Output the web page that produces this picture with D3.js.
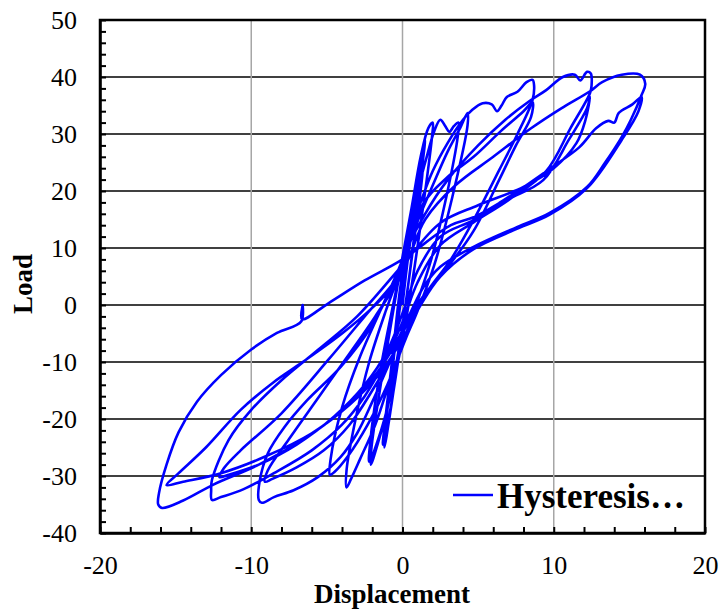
<!DOCTYPE html>
<html>
<head>
<meta charset="utf-8">
<script src="https://cdn.jsdelivr.net/npm/d3@7"></script>
<style>
  body { margin: 0; background: #fff; }
  text { font-family: "Liberation Serif", "Times New Roman", serif; fill: #000; }
</style>
</head>
<body>
<div id="chart"></div>
<script>
// tick values
var xTicks = [-20, -10, 0, 10, 20];
var yTicks = [-40, -30, -20, -10, 0, 10, 20, 30, 40, 50];
var legendLabel = "Hysteresis\u2026";

// load-displacement record, split by displacement level [disp, load]
var level1 = [
  [0,0],[0.4,9],[0.9,18],[1.3,24],[1.25,21.5],[0.8,12],[0.3,2],[-0.2,-8],[-0.7,-17],[-1.2,-25],
  [-1.15,-22],[-0.7,-12],[-0.2,-1],[0.3,9],[0.8,18],[1.35,25],[1.3,22.5],[0.8,12],[0.2,0],
  [-0.3,-10],[-0.85,-19],[-1.3,-24.5],[-1.2,-21.5],[-0.7,-10],[-0.2,2]
];
var level2 = [
  [0.3,11],[0.9,21],[1.5,29],[1.4,26.5],[0.9,15],[0.4,4],[-0.2,-7],[-0.9,-17],[-1.6,-24],[-2.1,-28],
  [-2.05,-25],[-1.5,-15],[-0.8,-4],[-0.1,7],[0.6,17],[1.2,26],[1.7,31],[2.0,32],[1.95,29.5],
  [1.4,18],[0.7,5],[0,-6],[-0.8,-16],[-1.6,-23.5],[-2.2,-27.5],[-2.15,-24.5],[-1.5,-12],[-0.7,-1]
];
var level3 = [
  [0,8],[0.7,17],[1.5,25],[2.1,30.5],[2.5,32.5],[2.8,31.5],[3.1,30.4],[3.4,31.4],[3.7,32],[3.65,29.5],
  [2.9,19],[1.9,8],[0.9,0],[0.1,-6],[-0.8,-13],[-1.8,-21],[-2.8,-27],[-3.4,-30.5],[-3.7,-32],
  [-3.7,-29],[-3.1,-20],[-2.2,-10],[-1.1,-1],[0,7],[0.9,14],[2.0,21],[3.0,27],[3.8,31],[4.3,33.7],
  [4.3,31.5],[3.3,19],[2.1,7],[1.0,-1],[0.2,-6],[-1.0,-14],[-2.3,-21],[-3.6,-26.5],[-4.5,-29.3],
  [-4.8,-29.8],[-4.75,-27],[-4.0,-18],[-2.8,-9],[-1.3,0]
];
var level4 = [
  [0,8],[1,16.5],[2,23.5],[3,28.5],[4,32.5],[4.6,34.2],[5.3,35.4],[5.9,35.2],[6.25,34.0],[6.55,35],
  [6.9,36.5],[7.6,37.4],[8.2,39.1],[8.6,39.5],[8.7,38.5],[8.6,36],[7.6,30],[6.4,23.7],[4.7,14.9],
  [3.2,8],[1.8,3],[0.8,-1],[0,-5],[-1,-11],[-2,-17],[-3,-22.5],[-4.1,-26.7],[-5.6,-30.2],
  [-7.2,-32.5],[-8.5,-33.7],[-9.3,-34.7],[-9.5,-34.2],[-9.45,-31],[-8.9,-26],[-7.8,-21.4],
  [-6.3,-16.7],[-4.1,-10.9],[-2,-3.5],[0,7.5],
  [1.4,17.9],[3,22.5],[4.7,26],[6.5,30.5],[8,34],[8.6,35.6],[8.5,33],[7.5,28],[6.4,22],[4.7,13],
  [3,6.7],[1.5,2],[0.5,-2],[-0.5,-8],[-2,-15],[-3.5,-21],[-5.2,-25.5],[-7,-28.5],[-8.6,-30.5],
  [-9.1,-31],[-8.9,-29],[-7.5,-23.5],[-5.5,-16],[-3.5,-8.5],[-1.8,-2],[0,6]
];
var level5 = [
  [0,8],[1.5,16],[3,22],[5,28],[6.8,32.5],[8.4,35.8],[9.5,37.7],[10.6,40],[11.4,40.4],[11.75,39.4],
  [12.2,40.9],[12.45,40.6],[12.5,38.5],[12.4,37.2],[11.1,31],[9.5,23.5],[7,18.4],[4.7,14.5],
  [2.5,10.5],[1,4],[0,-3],[-1.2,-10],[-2.5,-16],[-4,-21],[-6,-25.5],[-8.5,-29.5],[-10.5,-32.3],
  [-12,-33.7],[-12.6,-34.2],[-12.65,-32.5],[-12.6,-30.7],[-11.5,-23.7],[-10,-18.4],[-8,-13.2],
  [-5.6,-7.9],[-3,-2],[0,7],
  [2.5,14.4],[5,17.5],[8,20.7],[10,24],[11.5,28.4],[12.1,32.5],[12.4,36.5],[12.2,34.5],[11,29],
  [9.3,21.9],[6.9,18.4],[4.7,14.9],[2.5,12],[1,6],[0.2,0],[-1,-8],[-2.5,-14],[-4.5,-19.5],
  [-7,-24.5],[-9.5,-28],[-11.5,-29.8],[-12.1,-30.2],[-11.8,-28.6],[-10.7,-25.5],[-8,-19],
  [-4.9,-9.6],[-2.5,-2],[0,6]
];
var level6 = [
  [1.5,15],[3.5,21],[6,26],[8.5,31],[10.5,34.5],[12.4,37.5],[13.2,39.1],[14.5,40.4],[15.7,40.4],
  [16.05,38.8],[15.8,36.8],[15.1,32.5],[14.5,29.5],[13.4,25],[12.2,20.7],[9.7,16.1],[7.6,13.7],
  [4.7,10.2],[2.5,6.7],[1.4,3.2],[0.5,-1.5],[-0.5,-7],[-2,-13],[-4,-18.5],[-6.5,-23.5],[-9.5,-28],
  [-12.5,-31.5],[-14.5,-34.3],[-15.9,-35.6],[-16.15,-35],[-16.1,-33],[-15.6,-28],[-14.8,-22.3],
  [-13.6,-17],[-12,-12.3],[-10,-7.8],[-8.3,-4.9],[-6.7,-2.9],[-6.6,0],[-6.65,-2.5],[-4.9,0.3],
  [-2.5,4.3],[0,8],
  [3.2,14],[4.7,15.4],[6.4,17.9],[8.4,21.4],[9.9,24.2],[11.7,27.7],[12.8,31],[13.6,32.3],[14.0,32.0],
  [14.3,33.7],[15.2,35.2],[15.8,36.5],[15.6,34],[14.5,29],[12.2,20.5],[9.7,15.8],[7.6,13.4],
  [4.7,9.8],[2.5,5],[1.2,0],[0,-6],[-1.5,-12],[-3.5,-17.5],[-6,-22.5],[-9,-26.5],[-12,-29.5],
  [-14.5,-31],[-15.6,-31.6],[-14.8,-29.5],[-13,-25],[-10.7,-18.4],[-8.5,-13.5],[-6.7,-10.2],
  [-4,-5],[-2,-0.5],[0,5]
];

var hysteresis = [].concat(level1, level2, level3, level4, level5, level6);

//////////////////////////////////////////////////////////////////////////////

var width = 720, height = 611;
var margin = { top: 20, right: 15, bottom: 78, left: 100 };

var svg = d3.select("#chart").append("svg")
  .attr("width", width)
  .attr("height", height);

var x = d3.scaleLinear().domain([-20, 20]).range([margin.left, width - margin.right]);
var y = d3.scaleLinear().domain([-40, 50]).range([height - margin.bottom, margin.top]);

// plain hyphen for negatives, as in the original
function plain(d) { return String(d); }

// horizontal grid (dark) and vertical grid (light)
svg.append("g")
  .selectAll("line")
  .data(yTicks.slice(1, -1))
  .enter().append("line")
  .attr("x1", x(-20)).attr("x2", x(20))
  .attr("y1", function(d) { return y(d); })
  .attr("y2", function(d) { return y(d); })
  .attr("stroke", "#404040")
  .attr("stroke-width", 1.8);

svg.append("g")
  .selectAll("line")
  .data(xTicks.slice(1, -1))
  .enter().append("line")
  .attr("y1", y(-40)).attr("y2", y(50))
  .attr("x1", function(d) { return x(d); })
  .attr("x2", function(d) { return x(d); })
  .attr("stroke", "#a6a6a6")
  .attr("stroke-width", 1.5);

// the curve
var line = d3.line()
  .x(function(d) { return x(d[0]); })
  .y(function(d) { return y(d[1]); })
  .curve(d3.curveCatmullRom.alpha(0.5));

svg.append("path")
  .datum(hysteresis)
  .attr("d", line)
  .attr("fill", "none")
  .attr("stroke", "#0000ff")
  .attr("stroke-width", 2.6)
  .attr("stroke-linejoin", "round");

// frame
svg.append("rect")
  .attr("x", x(-20)).attr("y", y(50))
  .attr("width", x(20) - x(-20))
  .attr("height", y(-40) - y(50))
  .attr("fill", "none")
  .attr("stroke", "#000")
  .attr("stroke-width", 2.5);

// minor + major ticks pointing inward
svg.append("g")
  .attr("transform", "translate(" + x(-20) + ",0)")
  .call(d3.axisLeft(y).tickValues(d3.range(-40, 51, 2)).tickSize(-6).tickSizeOuter(0).tickFormat(""))
  .call(function(g) {
    g.select(".domain").attr("stroke-width", 2.5);
    g.selectAll(".tick line").attr("stroke-width", 2);
  });

svg.append("g")
  .attr("transform", "translate(0," + y(-40) + ")")
  .call(d3.axisBottom(x).tickValues(d3.range(-20, 21, 2)).tickSize(-6).tickSizeOuter(0).tickFormat(""))
  .call(function(g) {
    g.select(".domain").attr("stroke-width", 2.5);
    g.selectAll(".tick line").attr("stroke-width", 2);
  });

// tick labels
svg.append("g")
  .attr("transform", "translate(" + x(-20) + ",0)")
  .call(d3.axisLeft(y).tickValues(yTicks).tickSize(0).tickPadding(23).tickFormat(plain))
  .call(function(g) {
    g.select(".domain").remove();
    g.selectAll("text").attr("font-size", 26).attr("font-family", "Liberation Serif");
  });

svg.append("g")
  .attr("transform", "translate(0," + y(-40) + ")")
  .call(d3.axisBottom(x).tickValues(xTicks).tickSize(0).tickPadding(23).tickFormat(plain))
  .call(function(g) {
    g.select(".domain").remove();
    g.selectAll("text").attr("font-size", 26).attr("font-family", "Liberation Serif");
  });

// axis titles
svg.append("text")
  .attr("x", 392).attr("y", 603)
  .attr("text-anchor", "middle")
  .attr("font-size", 27)
  .attr("font-weight", "bold")
  .text("Displacement");

svg.append("text")
  .attr("transform", "translate(32,284) rotate(-90)")
  .attr("text-anchor", "middle")
  .attr("font-size", 27)
  .attr("font-weight", "bold")
  .text("Load");

// legend
var legend = svg.append("g").attr("transform", "translate(453,495)");
legend.append("line")
  .attr("x1", 0).attr("x2", 40)
  .attr("stroke", "#0000ff")
  .attr("stroke-width", 2.6);
legend.append("text")
  .attr("x", 44).attr("y", 13)
  .attr("font-size", 35)
  .attr("font-weight", "bold")
  .text(legendLabel);
</script>
</body>
</html>
